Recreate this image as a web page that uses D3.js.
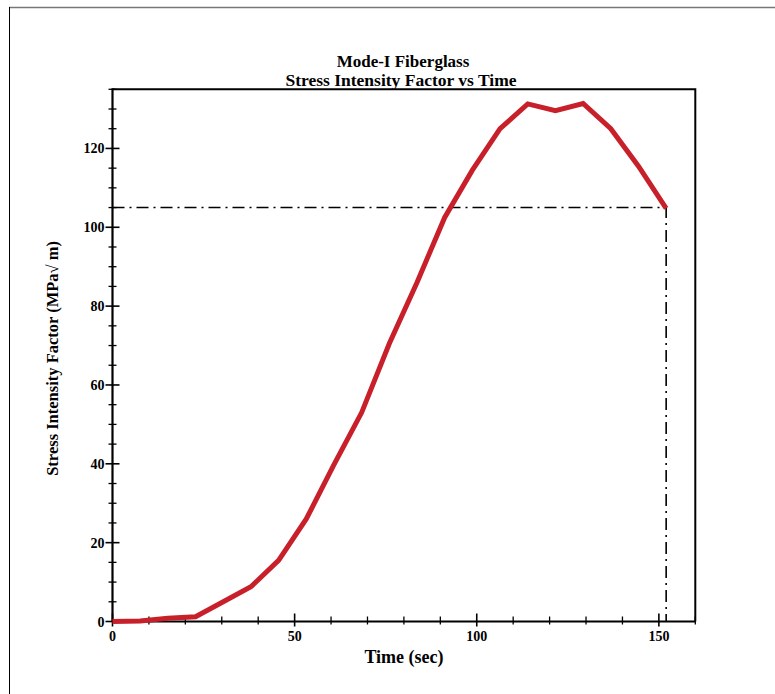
<!DOCTYPE html>
<html>
<head>
<meta charset="utf-8">
<script src="https://cdn.jsdelivr.net/npm/d3@7/dist/d3.min.js"></script>
<style>
  html, body { margin: 0; padding: 0; background: #fff; }
  svg { display: block; }
  text { font-family: "Liberation Serif", "Times New Roman", serif; font-weight: bold; fill: #000; }
</style>
</head>
<body>
<svg id="chart" width="775" height="694"></svg>
<script>
// Data
const timeSec = [0, 7.6, 15.2, 22.8, 30.4, 38, 45.6, 53.2, 60.8, 68.4, 76, 83.6, 91.2, 98.8, 106.4, 114, 121.6, 129.2, 136.8, 144.4, 152];
const stressK = [0, 0.1, 0.8, 1.2, 5.0, 8.8, 15.5, 26.0, 39.8, 53.0, 70.5, 86.0, 102.5, 114.5, 125.0, 131.3, 129.6, 131.4, 125.0, 115.5, 104.8];
const criticalK = [105];
const criticalT = [152];
const xTicks = [0, 50, 100, 150];
const yTicks = [0, 20, 40, 60, 80, 100, 120];
const titleLines = ["Mode-I Fiberglass", "Stress Intensity Factor vs Time"];
const xLabel = "Time (sec)";
const yLabel = "Stress Intensity Factor (MPa\u221A m)";

const svg = d3.select("#chart");
const m = { left: 112.5, right: 695.3, top: 89.3, bottom: 621.5 };

const x = d3.scaleLinear().domain([0, 160]).range([m.left, m.right]);
const y = d3.scaleLinear().domain([0, 135]).range([m.bottom, m.top]);

// outer frame
svg.append("line").attr("x1", 9).attr("x2", 775).attr("y1", 7.5).attr("y2", 7.5)
  .attr("stroke", "#777").attr("stroke-width", 1.5);
svg.append("line").attr("x1", 9.5).attr("x2", 9.5).attr("y1", 7).attr("y2", 694)
  .attr("stroke", "#000").attr("stroke-width", 1);

// top & right borders
svg.append("path")
  .attr("d", `M${m.left},${m.top}H${m.right}V${m.bottom}`)
  .attr("fill", "none").attr("stroke", "#000").attr("stroke-width", 2);

// minor ticks
const xMinor = d3.range(0, 161, 10).filter(v => !xTicks.includes(v));
const yMinor = d3.range(0, 136, 5).filter(v => !yTicks.includes(v));

const g = svg.append("g");
g.selectAll(".xminor").data(xMinor).join("line")
  .attr("x1", d => x(d)).attr("x2", d => x(d))
  .attr("y1", m.bottom - 5).attr("y2", m.bottom + 3)
  .attr("stroke", "#000").attr("stroke-width", 1.3);
g.selectAll(".xmajor").data(xTicks).join("line")
  .attr("x1", d => x(d)).attr("x2", d => x(d))
  .attr("y1", m.bottom - 8).attr("y2", m.bottom + 5)
  .attr("stroke", "#000").attr("stroke-width", 1.6);
g.selectAll(".yminor").data(yMinor).join("line")
  .attr("y1", d => y(d)).attr("y2", d => y(d))
  .attr("x1", m.left - 4).attr("x2", m.left + 4)
  .attr("stroke", "#000").attr("stroke-width", 1.3);
g.selectAll(".ymajor").data(yTicks).join("line")
  .attr("y1", d => y(d)).attr("y2", d => y(d))
  .attr("x1", m.left - 7).attr("x2", m.left + 7)
  .attr("stroke", "#000").attr("stroke-width", 1.6);

// axis lines
svg.append("line").attr("x1", m.left).attr("x2", m.right).attr("y1", m.bottom).attr("y2", m.bottom)
  .attr("stroke", "#000").attr("stroke-width", 2.2);
svg.append("line").attr("x1", m.left).attr("x2", m.left).attr("y1", m.top - 1).attr("y2", m.bottom)
  .attr("stroke", "#000").attr("stroke-width", 2.2);

// tick labels
svg.selectAll(".xl").data(xTicks).join("text")
  .attr("x", d => x(d)).attr("y", m.bottom + 19)
  .attr("text-anchor", "middle").attr("font-size", 14).text(d => d);
svg.selectAll(".yl").data(yTicks).join("text")
  .attr("x", m.left - 8).attr("y", d => y(d) + 5)
  .attr("text-anchor", "end").attr("font-size", 14).text(d => d);

// dash-dot critical lines
svg.append("path")
  .attr("d", `M${x(0)},${y(criticalK[0])}H${x(criticalT[0])}V${y(0)}`)
  .attr("fill", "none").attr("stroke", "#000").attr("stroke-width", 1.6)
  .attr("stroke-dasharray", "12,5,2,5");

// curve
const data = timeSec.map((t, i) => [t, stressK[i]]);
svg.append("path")
  .datum(data)
  .attr("d", d3.line().x(d => x(d[0])).y(d => y(d[1])))
  .attr("fill", "none").attr("stroke", "#c8202a").attr("stroke-width", 5)
  .attr("stroke-linejoin", "miter");

// titles
svg.append("text").attr("x", 403).attr("y", 66.5).attr("text-anchor", "middle")
  .attr("font-size", 17).text(titleLines[0]);
svg.append("text").attr("x", 401).attr("y", 86).attr("text-anchor", "middle")
  .attr("font-size", 17.5).text(titleLines[1]);

// axis labels
svg.append("text").attr("x", 404).attr("y", 663).attr("text-anchor", "middle")
  .attr("font-size", 18).text(xLabel);
svg.append("text")
  .attr("transform", `translate(58,${(m.top + m.bottom) / 2 + 3}) rotate(-90)`)
  .attr("text-anchor", "middle").attr("font-size", 16.5).text(yLabel);
</script>
</body>
</html>
